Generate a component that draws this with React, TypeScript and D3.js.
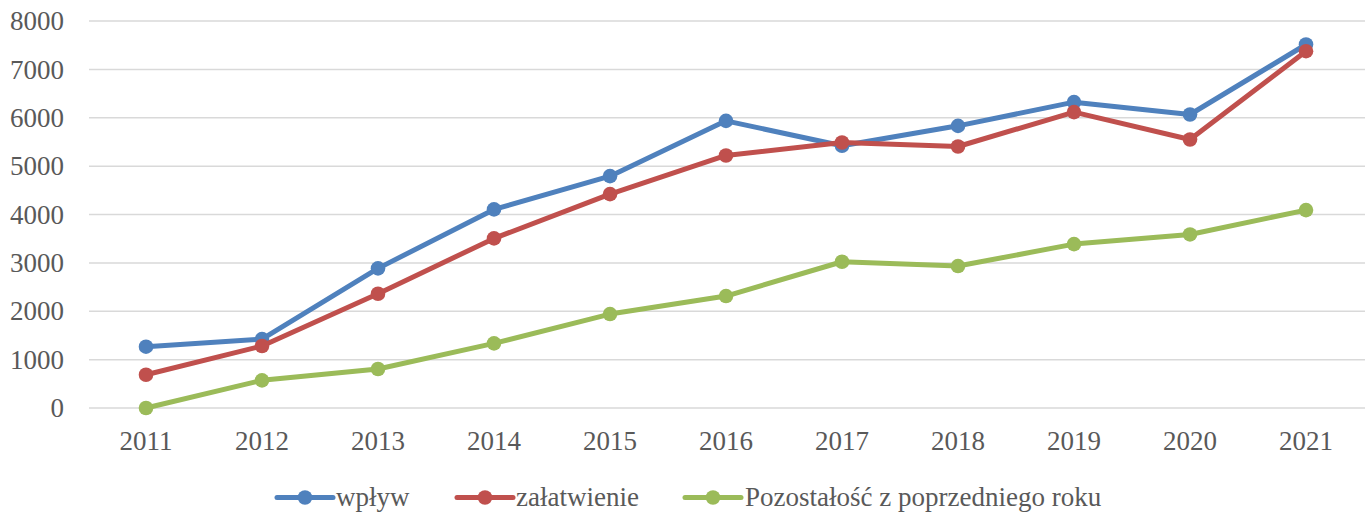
import React from "react";
import * as d3 from "d3";

const years = ["2011","2012","2013","2014","2015","2016","2017","2018","2019","2020","2021"];
const wplyw = [1267, 1425, 2886, 4105, 4793, 5936, 5420, 5833, 6322, 6067, 7514];
const zalatwienie = [688, 1281, 2362, 3506, 4421, 5220, 5489, 5406, 6116, 5551, 7376];
const pozostalosc = [0, 572, 806, 1336, 1942, 2314, 3023, 2934, 3388, 3588, 4091];
const yTicks = [0, 1000, 2000, 3000, 4000, 5000, 6000, 7000, 8000];

const seriesNames = ["wpływ", "załatwienie", "Pozostałość z poprzedniego roku"];
const seriesColors = ["#4F81BD", "#C0504D", "#9BBB59"];
const seriesData = [wplyw, zalatwienie, pozostalosc];

const W = 1367, H = 512;
const FONT = "\"Liberation Serif\", \"Times New Roman\", Times, serif";

export default function App() {
  const x = d3.scaleBand<string>().domain(years).range([88, 1364]);
  const y = d3.scaleLinear().domain([0, 8000]).range([408, 21]);
  const cx = (yr: string) => (x(yr) as number) + x.bandwidth() / 2;
  const line = d3.line<number>().x((_, i) => cx(years[i])).y((v) => y(v));

  const legendItems = [
    { lx: 277, tx: 336 },
    { lx: 457, tx: 516 },
    { lx: 685, tx: 745 },
  ];

  const textStyle = { fontFamily: FONT };

  return (
    <svg width={W} height={H} style={{ position: "absolute", left: 0, top: 0, background: "#fff", fontFamily: FONT }}>
      <rect x={0} y={0} width={W} height={H} fill="#fff" />
      {yTicks.map((t) => (
        <g key={t}>
          <line x1={89} x2={1365} y1={y(t)} y2={y(t)} stroke="#D9D9D9" strokeWidth={1.5} />
          <text x={64} y={y(t)} dy="0.34em" textAnchor="end" fontSize={27} fill="#595959" style={textStyle}>{t}</text>
        </g>
      ))}
      {years.map((yr) => (
        <text key={yr} x={cx(yr)} y={450} textAnchor="middle" fontSize={27} fill="#595959" style={textStyle}>{yr}</text>
      ))}
      {seriesData.map((data, si) => (
        <g key={si}>
          <path d={line(data) as string} fill="none" stroke={seriesColors[si]} strokeWidth={5} strokeLinejoin="round" />
          {data.map((v, i) => (
            <circle key={i} cx={cx(years[i])} cy={y(v)} r={7.3} fill={seriesColors[si]} />
          ))}
        </g>
      ))}
      {legendItems.map((it, si) => (
        <g key={si}>
          <line x1={it.lx} x2={it.lx + 56} y1={497.5} y2={497.5} stroke={seriesColors[si]} strokeWidth={5} strokeLinecap="round" />
          <circle cx={it.lx + 28} cy={497.5} r={7.3} fill={seriesColors[si]} />
          <text x={it.tx} y={506} fontSize={27} fill="#595959" style={textStyle}>{seriesNames[si]}</text>
        </g>
      ))}
    </svg>
  );
}
